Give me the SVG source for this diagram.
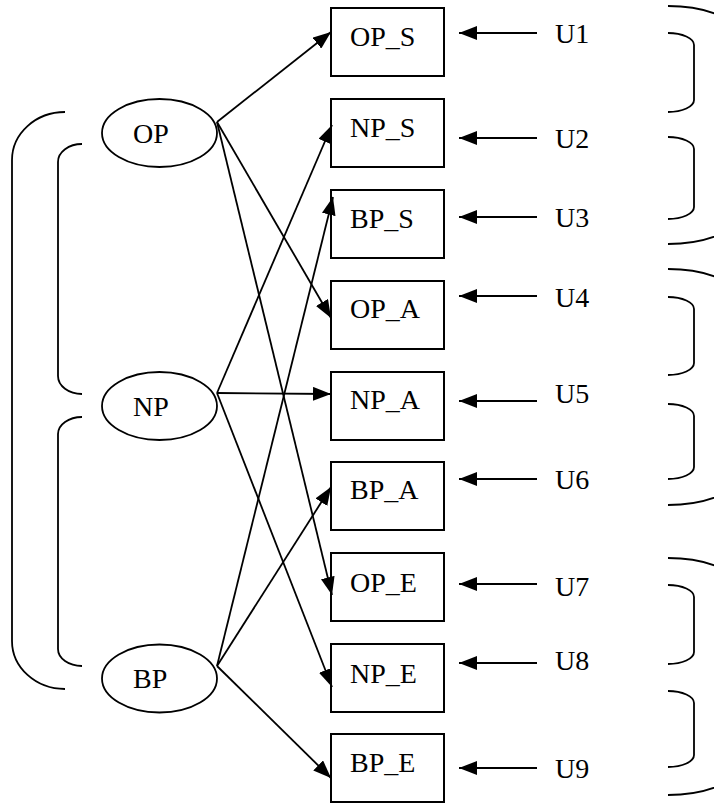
<svg xmlns="http://www.w3.org/2000/svg" width="714" height="805" viewBox="0 0 714 805">
  <style>
    .box { fill: #fff; stroke: #000; stroke-width: 2; }
    .ell { fill: #fff; stroke: #000; stroke-width: 1.8; }
    text { font-family: 'Liberation Serif', 'Times New Roman', Times, serif; font-size: 28px; fill: #000; }
    .edge { stroke: #000; stroke-width: 1.8; fill: none; marker-end: url(#arrow); }
    .brace { stroke: #000; stroke-width: 1.8; fill: none; }
  </style>
  <defs>
    <marker id="arrow" markerUnits="userSpaceOnUse" markerWidth="18" markerHeight="14" refX="18" refY="7" orient="auto">
      <path d="M0,0 L18,7 L0,14 z" fill="#000"/>
    </marker>
  </defs>
  <rect width="714" height="805" fill="#fff"/>

  <!-- left grouping brackets -->
  <g id="left-brackets">
    <path class="brace" d="M65,112 A53,48 0 0 0 12,160 V641 A53,48 0 0 0 65,689"/>
    <path class="brace" d="M82,144 A24,18 0 0 0 58,162 V376 A24,18 0 0 0 82,394"/>
    <path class="brace" d="M82,417 A24,17 0 0 0 58,434 V649 A24,17 0 0 0 82,666"/>
  </g>

  <!-- right grouping brackets -->
  <g id="right-brackets">
    <path class="brace" d="M668,6 A80,40 0 0 1 748,46 V204 A80,40 0 0 1 668,244"/>
    <path class="brace" d="M668,269 A80,40 0 0 1 748,309 V465 A80,40 0 0 1 668,505"/>
    <path class="brace" d="M668,558 A80,40 0 0 1 748,598 V755 A80,40 0 0 1 668,795"/>
    <path class="brace" d="M668,33 A26,12 0 0 1 694,45 V100 A26,12 0 0 1 668,112"/>
    <path class="brace" d="M668,137 A26,12 0 0 1 694,149 V207 A26,12 0 0 1 668,219"/>
    <path class="brace" d="M668,297 A26,12 0 0 1 694,309 V363 A26,12 0 0 1 668,375"/>
    <path class="brace" d="M668,404 A26,12 0 0 1 694,416 V467 A26,12 0 0 1 668,479"/>
    <path class="brace" d="M668,585 A26,12 0 0 1 694,597 V652 A26,12 0 0 1 668,664"/>
    <path class="brace" d="M668,691 A26,12 0 0 1 694,703 V755 A26,12 0 0 1 668,767"/>
  </g>

  <!-- latent factor nodes -->
  <g id="OP">
    <ellipse class="ell" cx="159.5" cy="133" rx="57.5" ry="34"/>
    <text x="133" y="143">OP</text>
  </g>
  <g id="NP">
    <ellipse class="ell" cx="159.5" cy="406" rx="57.5" ry="34"/>
    <text x="133" y="416">NP</text>
  </g>
  <g id="BP">
    <ellipse class="ell" cx="159.5" cy="678.5" rx="57.5" ry="34"/>
    <text x="133" y="688">BP</text>
  </g>

  <!-- indicator nodes -->
  <g id="OP_S"><rect class="box" x="331" y="8" width="113" height="68"/><text x="350" y="46">OP_S</text></g>
  <g id="NP_S"><rect class="box" x="331" y="99" width="113" height="68"/><text x="350" y="137">NP_S</text></g>
  <g id="BP_S"><rect class="box" x="331" y="190" width="113" height="68"/><text x="350" y="228">BP_S</text></g>
  <g id="OP_A"><rect class="box" x="331" y="281" width="113" height="68"/><text x="350" y="318">OP_A</text></g>
  <g id="NP_A"><rect class="box" x="331" y="372" width="113" height="68"/><text x="350" y="409">NP_A</text></g>
  <g id="BP_A"><rect class="box" x="331" y="462" width="113" height="68"/><text x="350" y="499">BP_A</text></g>
  <g id="OP_E"><rect class="box" x="331" y="553" width="113" height="68"/><text x="350" y="592">OP_E</text></g>
  <g id="NP_E"><rect class="box" x="331" y="644" width="113" height="68"/><text x="350" y="683">NP_E</text></g>
  <g id="BP_E"><rect class="box" x="331" y="734" width="113" height="68"/><text x="350" y="772">BP_E</text></g>

  <!-- error terms -->
  <g id="U1"><text x="555" y="43">U1</text></g>
  <g id="U2"><text x="555" y="148">U2</text></g>
  <g id="U3"><text x="555" y="227">U3</text></g>
  <g id="U4"><text x="555" y="307">U4</text></g>
  <g id="U5"><text x="555" y="403">U5</text></g>
  <g id="U6"><text x="555" y="489">U6</text></g>
  <g id="U7"><text x="555" y="596">U7</text></g>
  <g id="U8"><text x="555" y="670">U8</text></g>
  <g id="U9"><text x="555" y="778">U9</text></g>

  <!-- connectors -->
  <g id="connectors">
    <line class="edge" x1="217" y1="122" x2="331" y2="32"/>
    <line class="edge" x1="217" y1="122" x2="331" y2="318"/>
    <line class="edge" x1="217" y1="122" x2="332" y2="595"/>
    <line class="edge" x1="217" y1="393" x2="332" y2="125"/>
    <line class="edge" x1="217" y1="393" x2="331" y2="394"/>
    <line class="edge" x1="217" y1="393" x2="332" y2="687"/>
    <line class="edge" x1="217" y1="666" x2="333" y2="197"/>
    <line class="edge" x1="217" y1="666" x2="331" y2="487"/>
    <line class="edge" x1="217" y1="666" x2="331" y2="778"/>

    <line class="edge" x1="537" y1="33" x2="459" y2="33"/>
    <line class="edge" x1="537" y1="138" x2="459" y2="138"/>
    <line class="edge" x1="537" y1="217" x2="459" y2="217"/>
    <line class="edge" x1="537" y1="296" x2="459" y2="296"/>
    <line class="edge" x1="537" y1="401" x2="459" y2="401"/>
    <line class="edge" x1="537" y1="479" x2="459" y2="479"/>
    <line class="edge" x1="537" y1="584" x2="459" y2="584"/>
    <line class="edge" x1="537" y1="663" x2="459" y2="663"/>
    <line class="edge" x1="537" y1="768" x2="459" y2="768"/>
  </g>
</svg>
